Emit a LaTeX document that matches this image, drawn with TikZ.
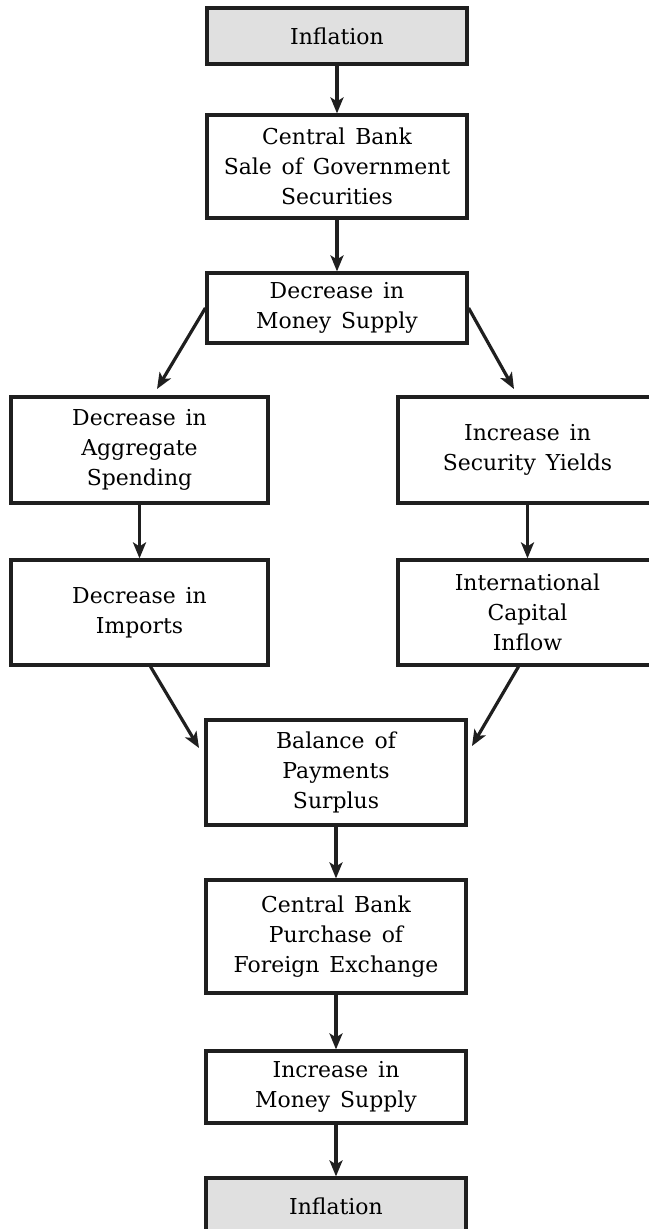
\documentclass[tikz,border=0pt]{standalone}
\usepackage{fontspec}
\setmainfont{DejaVu Serif}
\usetikzlibrary{arrows.meta,calc}
\newcommand\bxfont{\fontsize{22}{30}\selectfont\spaceskip=0.45em plus 0.1em\relax}
\begin{document}
\begin{tikzpicture}[x=1bp,y=-1bp,
  box/.style={draw=black!88, line width=3.2bp, inner sep=0pt, align=center,
    minimum width=260bp, font=\bxfont},
  shadedbox/.style={box, fill=gray!24},
  arr/.style={line width=3.2bp, draw=black!88, -{Stealth[length=16bp,width=13bp,inset=4bp]}}]
\useasboundingbox (0,0) rectangle (649,1229);
\clip (0,0) rectangle (649,1229);
\node[shadedbox, minimum height=56bp] (inf1) at (337,36) {Inflation};
\node[box, minimum height=103bp] (cb) at (337,166.5) {Central Bank\\Sale of Government\\Securities};
\node[box, minimum height=70bp] (dms) at (337,308) {Decrease in\\Money Supply};
\node[box, minimum width=257bp, minimum height=106bp] (agg) at (139.5,450) {Decrease in\\Aggregate\\Spending};
\node[box, minimum width=259bp, minimum height=106bp] (sec) at (527.5,450) {Increase in\\Security Yields};
\node[box, minimum width=257bp, minimum height=105bp] (imp) at (139.5,612.5) {Decrease in\\Imports};
\node[box, minimum width=259bp, minimum height=105bp] (intl) at (527.5,612.5) {International\\Capital\\Inflow};
\node[box, minimum height=105bp] (bop) at (336,772.5) {Balance of\\Payments\\Surplus};
\node[box, minimum height=113bp] (cbp) at (336,936.5) {Central Bank\\Purchase of\\Foreign Exchange};
\node[box, minimum height=72bp] (ims) at (336,1087) {Increase in\\Money Supply};
\node[shadedbox, minimum height=56bp] (inf2) at (336,1206) {Inflation};
\coordinate (d1) at (157,389);
\coordinate (d2) at (514,389);
\coordinate (d3) at (199,748);
\coordinate (d4) at (472,746);
\draw[arr] (inf1.south) -- (cb.north);
\draw[arr] (cb.south) -- (dms.north);
\draw[arr] (dms.west) -- (d1);
\draw[arr] (dms.east) -- (d2);
\draw[arr] (agg.south) -- (imp.north);
\draw[arr] (sec.south) -- (intl.north);
\draw[arr] ($(imp.south)+(11,0)$) -- (d3);
\draw[arr] ($(intl.south)+(-9,0)$) -- (d4);
\draw[arr] (bop.south) -- (cbp.north);
\draw[arr] (cbp.south) -- (ims.north);
\draw[arr] (ims.south) -- (inf2.north);
\end{tikzpicture}
\end{document}
